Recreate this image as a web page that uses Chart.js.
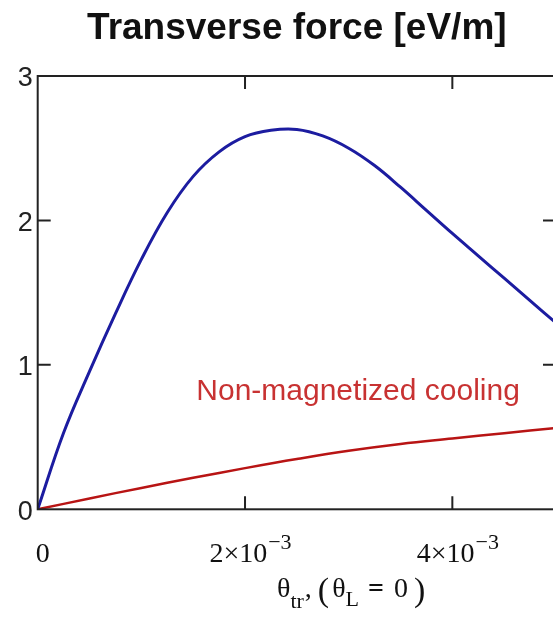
<!DOCTYPE html>
<html>
<head>
<meta charset="utf-8">
<title>Transverse force</title>
<script src="https://cdn.jsdelivr.net/npm/chart.js@4.4.1/dist/chart.umd.min.js"></script>
<style>
  html, body { margin: 0; padding: 0; background: #fff; overflow: hidden; }
  #wrap { width: 562px; height: 623px; }
</style>
</head>
<body>
<div id="wrap"><canvas id="forceChart" width="562" height="623"></canvas></div>
<script>
// theta_tr values (rad)
const thetaBlue = [0, 0.00025, 0.0005, 0.00075, 0.001, 0.00125, 0.0015, 0.00175, 0.002,
  0.00225, 0.0025, 0.00275, 0.003, 0.00325, 0.0035, 0.00375, 0.004, 0.00425, 0.0045,
  0.00475, 0.005];
// magnetized cooling force [eV/m]
const forceMagnetized = [0, 0.53, 0.955, 1.355, 1.73, 2.055, 2.305, 2.475, 2.58,
  2.624, 2.63, 2.585, 2.50, 2.38, 2.23, 2.07, 1.91, 1.755, 1.60,
  1.445, 1.29];

const thetaRed = [0, 0.0005, 0.001, 0.0015, 0.002, 0.0025, 0.003, 0.0035, 0.004, 0.0045, 0.005];
// non-magnetized cooling force [eV/m]
const forceNonMagnetized = [0, 0.075, 0.148, 0.218, 0.285, 0.348, 0.405, 0.452, 0.49, 0.527, 0.563];

const yTicks = [0, 1, 2, 3];
const xTicks = [0, 0.002, 0.004];
const xTickText = [["0", ""], ["2\u00d710", "\u22123"], ["4\u00d710", "\u22123"]];

const chartTitle = "Transverse force [eV/m]";
const curveLabel = "Non-magnetized cooling";

const BLUE = "#1c1ca0";
const RED = "#b81414";

// frame, inward ticks and all the Mathcad-style text
const decorations = {
  id: "decorations",
  afterDraw(chart) {
    const ctx = chart.ctx;
    const a = chart.chartArea;
    const xs = chart.scales.x;
    const ys = chart.scales.y;
    const tl = 13;
    ctx.save();
    ctx.strokeStyle = "#222";
    ctx.lineWidth = 2;
    ctx.strokeRect(a.left, a.top, a.right - a.left, a.bottom - a.top);
    ctx.beginPath();
    yTicks.slice(1, -1).forEach(v => {
      const p = ys.getPixelForValue(v);
      ctx.moveTo(a.left, p); ctx.lineTo(a.left + tl, p);
      ctx.moveTo(a.right, p); ctx.lineTo(a.right - tl, p);
    });
    xTicks.slice(1).forEach(v => {
      const p = xs.getPixelForValue(v);
      ctx.moveTo(p, a.bottom); ctx.lineTo(p, a.bottom - tl);
      ctx.moveTo(p, a.top); ctx.lineTo(p, a.top + tl);
    });
    ctx.stroke();

    // title
    ctx.fillStyle = "#111";
    ctx.font = "bold 37px 'Liberation Sans', Arial, sans-serif";
    ctx.textAlign = "center";
    ctx.textBaseline = "alphabetic";
    ctx.fillText(chartTitle, (a.left + a.right) / 2, 39);

    // x tick labels with superscript exponent
    const base = "28px 'Liberation Serif', 'Times New Roman', serif";
    const sup = "22px 'Liberation Serif', 'Times New Roman', serif";
    const paren = "34px 'Liberation Serif', 'Times New Roman', serif";
    ctx.textAlign = "left";
    xTicks.forEach((v, i) => {
      const [main, exp] = xTickText[i];
      ctx.font = base;
      const w1 = ctx.measureText(main).width;
      ctx.font = sup;
      const w2 = exp ? ctx.measureText(exp).width : 0;
      const x = xs.getPixelForValue(v) + 5 - (w1 + w2) / 2;
      ctx.font = base;
      ctx.fillText(main, x, 562);
      if (exp) {
        ctx.font = sup;
        ctx.fillText(exp, x + w1 + 1, 549);
      }
    });

    // x axis title: theta_tr, (theta_L = 0)  [text, font, baseline, gap after]
    const parts = [
      ["\u03b8", base, 597, 0],
      ["tr", sup, 608, 1],
      [",", base, 597, 6],
      ["(", paren, 601, 3],
      ["\u03b8", base, 597, 0],
      ["L", sup, 606, 9],
      ["=", "bold 28px 'Liberation Serif', serif", 597, 10],
      ["0", base, 597, 6],
      [")", paren, 601, 0]
    ];
    let tx = 277;
    parts.forEach(([t, f, by, gap]) => {
      ctx.font = f;
      ctx.fillText(t, tx, by);
      tx += ctx.measureText(t).width + gap;
    });

    // curve label
    ctx.fillStyle = "#c83232";
    ctx.font = "30px 'Liberation Sans', Arial, sans-serif";
    ctx.fillText(curveLabel, xs.getPixelForValue(0.00153), ys.getPixelForValue(0.76));
    ctx.restore();
  }
};

const ctx = document.getElementById("forceChart").getContext("2d");
new Chart(ctx, {
  type: "line",
  data: {
    datasets: [
      {
        label: "Magnetized cooling",
        data: thetaBlue.map((t, i) => ({ x: t, y: forceMagnetized[i] })),
        borderColor: BLUE,
        borderWidth: 3,
        pointRadius: 0,
        tension: 0.4,
        fill: false
      },
      {
        label: curveLabel,
        data: thetaRed.map((t, i) => ({ x: t, y: forceNonMagnetized[i] })),
        borderColor: RED,
        borderWidth: 2.5,
        pointRadius: 0,
        tension: 0.4,
        fill: false
      }
    ]
  },
  options: {
    responsive: false,
    animation: false,
    layout: { padding: { top: 76, right: 6, left: 0, bottom: 0 } },
    plugins: {
      legend: { display: false },
      title: { display: false },
      tooltip: { enabled: false }
    },
    scales: {
      x: {
        type: "linear",
        min: 0,
        max: 0.005,
        grid: { display: false, drawTicks: false },
        border: { display: false },
        ticks: { display: false },
        afterFit(scale) { scale.height = 113.7; }
      },
      y: {
        min: 0,
        max: 3,
        grid: { display: false, drawTicks: false },
        border: { display: false },
        ticks: {
          stepSize: 1,
          padding: 5,
          labelOffset: 3,
          color: "#222",
          font: { family: "'Liberation Sans', Arial, sans-serif", size: 27 }
        },
        afterFit(scale) { scale.width = 37.7; }
      }
    }
  },
  plugins: [decorations]
});
</script>
</body>
</html>
